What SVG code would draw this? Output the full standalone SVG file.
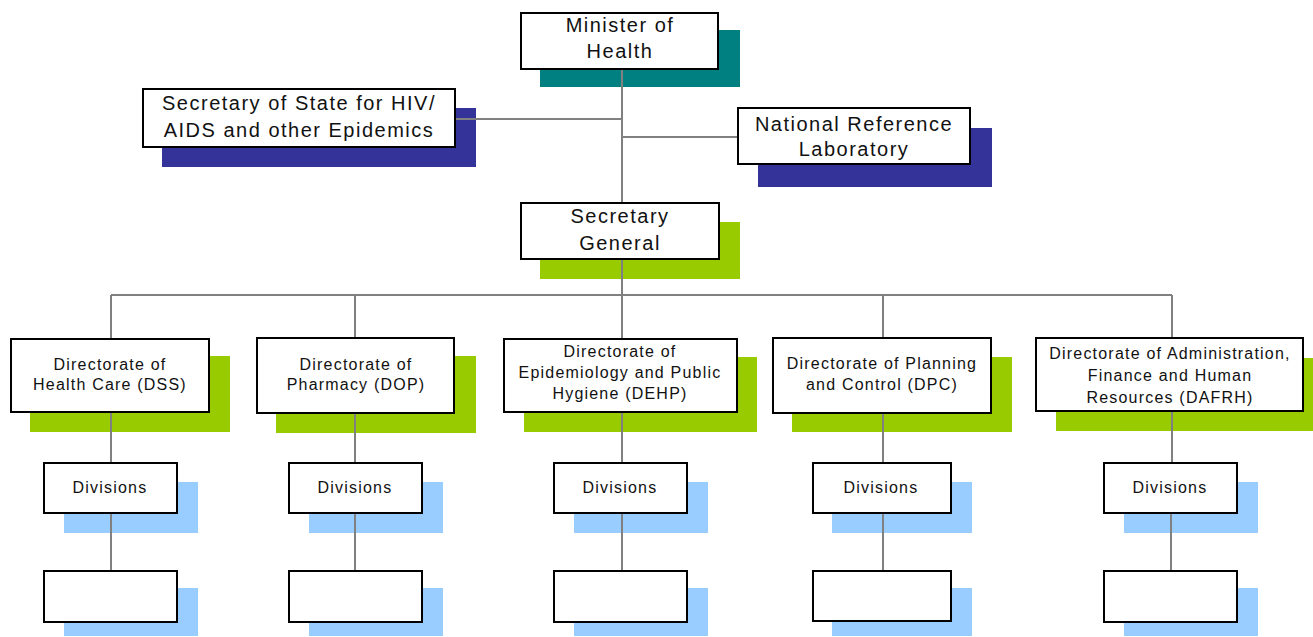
<svg xmlns="http://www.w3.org/2000/svg" width="1313" height="637" viewBox="0 0 1313 637">
<style>
.box{fill:#fff;stroke:#000;stroke-width:2}
.teal{fill:#008080}
.navy{fill:#333399}
.green{fill:#99CC00}
.blue{fill:#99CCFF}
.t1{font-family:"Liberation Sans",Arial,sans-serif;font-size:20px;letter-spacing:1.5px;fill:#111;text-anchor:middle}
.t2{font-family:"Liberation Sans",Arial,sans-serif;font-size:16px;letter-spacing:1.2px;fill:#111;text-anchor:middle}
.ln{stroke:#808080;stroke-width:2;fill:none}
</style>
<rect width="1313" height="637" fill="#fff"/>
<g id="minister">
<rect class="teal" x="540" y="30" width="200" height="57"/>
<rect class="box" x="521" y="13" width="197" height="56"/>
<text class="t1" x="620" y="32">Minister of</text>
<text class="t1" x="620" y="58">Health</text>
</g>
<g id="sos">
<rect class="navy" x="162" y="108" width="314" height="59"/>
<rect class="box" x="143" y="89" width="312" height="58"/>
<text class="t1" x="299" y="110">Secretary of State for HIV/</text>
<text class="t1" x="299" y="137">AIDS and other Epidemics</text>
</g>
<g id="nrl">
<rect class="navy" x="758" y="128" width="234" height="59"/>
<rect class="box" x="738" y="108" width="232" height="56"/>
<text class="t1" x="854" y="131">National Reference</text>
<text class="t1" x="854" y="156">Laboratory</text>
</g>
<g id="sg">
<rect class="green" x="540" y="222" width="200" height="57"/>
<rect class="box" x="521" y="203" width="198" height="56"/>
<text class="t1" x="620" y="223">Secretary</text>
<text class="t1" x="620" y="250">General</text>
</g>
<g id="dss">
<rect class="green" x="30" y="356" width="200" height="76"/>
<rect class="box" x="11" y="339" width="198" height="73"/>
<text class="t2" x="110" y="370">Directorate of</text>
<text class="t2" x="110" y="390">Health Care (DSS)</text>
</g>
<g id="dop">
<rect class="green" x="276" y="356" width="200" height="77"/>
<rect class="box" x="257" y="338" width="197" height="75"/>
<text class="t2" x="356" y="370">Directorate of</text>
<text class="t2" x="356" y="390">Pharmacy (DOP)</text>
</g>
<g id="dehp">
<rect class="green" x="524" y="357" width="233" height="75"/>
<rect class="box" x="504" y="339" width="233" height="73"/>
<text class="t2" x="620" y="357">Directorate of</text>
<text class="t2" x="620" y="378">Epidemiology and Public</text>
<text class="t2" x="620" y="399">Hygiene (DEHP)</text>
</g>
<g id="dpc">
<rect class="green" x="792" y="357" width="220" height="75"/>
<rect class="box" x="773" y="338" width="218" height="75"/>
<text class="t2" x="882" y="369">Directorate of Planning</text>
<text class="t2" x="882" y="390">and Control (DPC)</text>
</g>
<g id="dafrh">
<rect class="green" x="1056" y="358" width="257" height="73"/>
<rect class="box" x="1036" y="338" width="267" height="73"/>
<text class="t2" x="1170" y="359" letter-spacing="1">Directorate of Administration,</text>
<text class="t2" x="1170" y="381">Finance and Human</text>
<text class="t2" x="1170" y="403">Resources (DAFRH)</text>
</g>
<g id="div1">
<rect class="blue" x="64" y="482" width="134" height="51"/>
<rect class="box" x="44" y="463" width="133" height="50"/>
<text class="t2" x="110" y="493" letter-spacing="0.8">Divisions</text>
</g>
<g id="div2">
<rect class="blue" x="309" y="482" width="134" height="51"/>
<rect class="box" x="289" y="463" width="133" height="50"/>
<text class="t2" x="355" y="493" letter-spacing="0.8">Divisions</text>
</g>
<g id="div3">
<rect class="blue" x="574" y="482" width="134" height="51"/>
<rect class="box" x="554" y="463" width="133" height="50"/>
<text class="t2" x="620" y="493" letter-spacing="0.8">Divisions</text>
</g>
<g id="div4">
<rect class="blue" x="832" y="482" width="140" height="51"/>
<rect class="box" x="813" y="463" width="138" height="50"/>
<text class="t2" x="881" y="493" letter-spacing="0.8">Divisions</text>
</g>
<g id="div5">
<rect class="blue" x="1124" y="482" width="134" height="51"/>
<rect class="box" x="1104" y="463" width="133" height="50"/>
<text class="t2" x="1170" y="493" letter-spacing="0.8">Divisions</text>
</g>
<g id="sub1">
<rect class="blue" x="64" y="588" width="134" height="48"/>
<rect class="box" x="44" y="571" width="133" height="51"/>
</g>
<g id="sub2">
<rect class="blue" x="309" y="588" width="134" height="48"/>
<rect class="box" x="289" y="571" width="133" height="51"/>
</g>
<g id="sub3">
<rect class="blue" x="574" y="588" width="134" height="48"/>
<rect class="box" x="554" y="571" width="133" height="51"/>
</g>
<g id="sub4">
<rect class="blue" x="832" y="588" width="140" height="48"/>
<rect class="box" x="813" y="571" width="138" height="50"/>
</g>
<g id="sub5">
<rect class="blue" x="1124" y="588" width="134" height="48"/>
<rect class="box" x="1104" y="571" width="133" height="51"/>
</g>
<g id="connectors" class="ln">
<path d="M622 70V202M622 260V295"/>
<path d="M456 119H622M622 137H737"/>
<path d="M111 295H1172"/>
<path d="M111 295V338M355 295V337M622 295V338M883 295V337M1172 295V337"/>
<path d="M111 413V462M355 414V462M622 413V462M883 414V462M1172 412V462"/>
<path d="M111 514V570M355 514V570M622 514V570M883 514V570M1171 514V570"/>
</g>
</svg>
